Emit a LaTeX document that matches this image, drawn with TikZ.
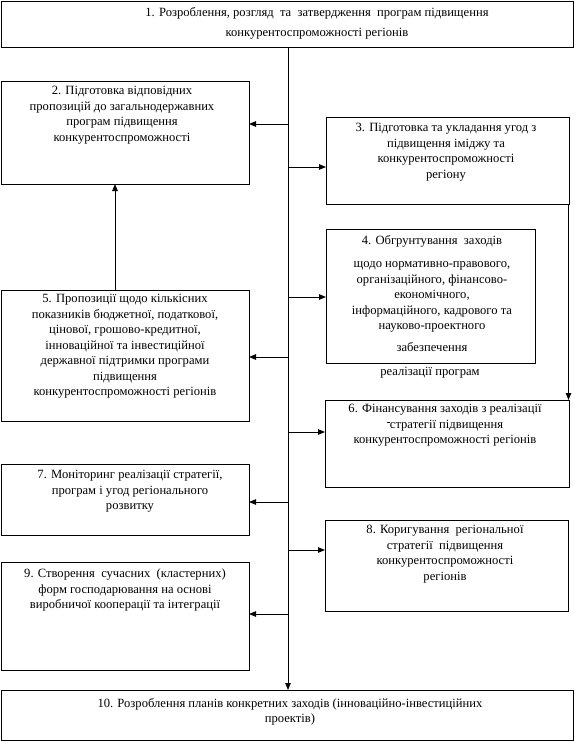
\documentclass[tikz,border=0pt]{standalone}
\usepackage{fontspec}
\setmainfont{Liberation Serif}
\usetikzlibrary{arrows.meta}
\begin{document}
\begin{tikzpicture}[x=1pt,y=-1pt,
  box/.style={draw, line width=0.9pt, inner sep=0pt, outer sep=0pt},
  txt/.style={align=center, inner sep=0pt, anchor=north, font=\fontsize{12.6}{15.5}\selectfont},
  arr/.style={line width=0.9pt, -{Triangle[length=7pt,width=5.5pt]}},
  ln/.style={line width=0.9pt}]
\useasboundingbox (0,0) rectangle (575,742);
% boxes
\node[box, minimum width=572pt, minimum height=46pt] (b1) at (287,24) {};
\node[box, minimum width=248pt, minimum height=103pt] (b2) at (125,132.5) {};
\node[box, minimum width=243pt, minimum height=87pt] (b3) at (447.5,160.5) {};
\node[box, minimum width=209pt, minimum height=134pt] (b4) at (430.5,296) {};
\node[box, minimum width=248pt, minimum height=131pt] (b5) at (125,355.5) {};
\node[box, minimum width=244pt, minimum height=87pt] (b6) at (447,443.5) {};
\node[box, minimum width=248pt, minimum height=71pt] (b7) at (125,499.5) {};
\node[box, minimum width=243pt, minimum height=91pt] (b8) at (446.5,565.5) {};
\node[box, minimum width=248pt, minimum height=108pt] (b9) at (125,616) {};
\node[box, minimum width=572pt, minimum height=50pt] (b10) at (287,715) {};
% texts
\node[txt] (t1) at (317,7) {1. Розроблення, розгляд\ \ та\ \ затвердження\ \ програм підвищення\\[5pt] конкурентоспроможності регіонів};
\node[txt] (t2) at (122,86) {2. Підготовка відповідних\\ пропозицій до загальнодержавних\\ програм підвищення\\ конкурентоспроможності};
\node[txt] (t3) at (446,123) {3. Підготовка та укладання угод з\\ підвищення іміджу та\\ конкурентоспроможності\\ регіону};
\node[txt] (t4) at (432,235) {4. Обгрунтування\ \ заходів\\[8pt] щодо нормативно-правового,\\ організаційного, фінансово-\\ економічного,\\ інформаційного, кадрового та\\ науково-проектного\\[6pt] забезпечення};
\node[txt] (t4b) at (430,367) {реалізації програм};
\node[txt] (t5) at (125,294) {5. Пропозиції щодо кількісних\\ показників бюджетної, податкової,\\ цінової, грошово-кредитної,\\ інноваційної та інвестиційної\\ державної підтримки програми\\ підвищення\\ конкурентоспроможності регіонів};
\node[txt] (t6) at (445,404) {6. Фінансування заходів з реалізації\\ \raisebox{5pt}{\rule{3pt}{1.2pt}}стратегії підвищення\\ конкурентоспроможності регіонів};
\node[txt] (t7) at (130,470) {7. Моніторинг реалізації стратегії,\\ програм і угод регіонального\\ розвитку};
\node[txt] (t8) at (445,525) {8. Коригування\ \ регіональної\\ стратегії\ \ підвищення\\ конкурентоспроможності\\ регіонів};
\node[txt] (t9) at (125,569) {9. Створення\ \ сучасних\ \ (кластерних)\\ форм господарювання на основі\\ виробничої кооперації та інтеграції};
\node[txt] (t10) at (290,698) {10. Розроблення планів конкретних заходів (інноваційно-інвестиційних\\ проектів)};
% connectors
\coordinate (mx) at (288,0);
\draw[arr] (b1.south -| mx) -- (b10.north -| mx);
\coordinate (m2) at (288,124);
\coordinate (m3) at (288,167);
\coordinate (m4) at (288,297);
\coordinate (m5) at (288,357);
\coordinate (m6) at (288,432);
\coordinate (m7) at (288,502);
\coordinate (m8) at (288,550);
\coordinate (m9) at (288,614);
\draw[arr] (m2) -- (m2 -| b2.east);
\draw[arr] (m3) -- (m3 -| b3.west);
\draw[arr] (m4) -- (m4 -| b4.west);
\draw[arr] (m5) -- (m5 -| b5.east);
\draw[arr] (m6) -- (m6 -| b6.west);
\draw[arr] (m7) -- (m7 -| b7.east);
\draw[arr] (m8) -- (m8 -| b8.west);
\draw[arr] (m9) -- (m9 -| b9.east);
\coordinate (c5) at (115,0);
\draw[arr] (b5.north -| c5) -- (b2.south -| c5);
\coordinate (c3) at (568.5,0);
\draw[arr] (b3.south -| c3) -- (b6.north -| c3);
\end{tikzpicture}
\end{document}
